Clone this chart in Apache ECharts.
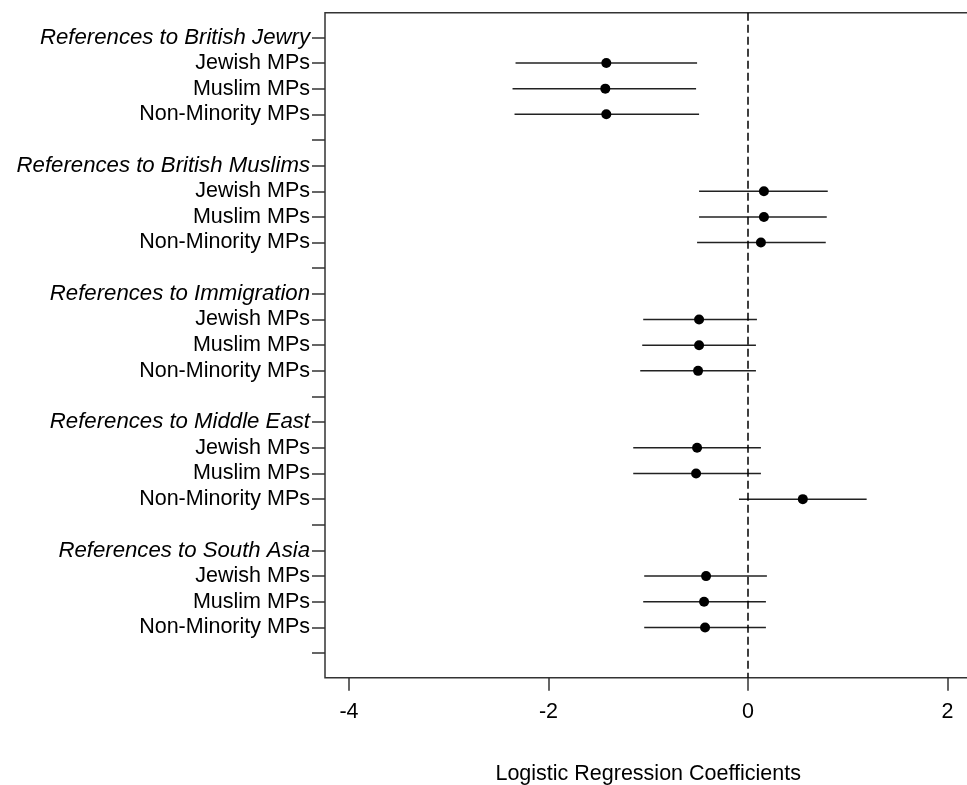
<!DOCTYPE html>
<html>
<head>
<meta charset="utf-8">
<script src="https://cdn.jsdelivr.net/npm/echarts@6/dist/echarts.min.js"></script>
<style>
  html, body { margin: 0; padding: 0; background: #fff; }
  #chart { width: 967px; height: 785px; }
</style>
</head>
<body>
<div id="chart"></div>
<script>
// topics (group headers) and MP types within each
const groups = [
    'References to British Jewry',
    'References to British Muslims',
    'References to Immigration',
    'References to Middle East',
    'References to South Asia'
];
const mpTypes = ['Jewish MPs', 'Muslim MPs', 'Non-Minority MPs'];

// coefficients, one row per group, in mpTypes order
const estimates = [
    [-1.42, -1.43, -1.42],
    [0.16, 0.16, 0.13],
    [-0.49, -0.49, -0.50],
    [-0.51, -0.52, 0.55],
    [-0.42, -0.44, -0.43]
];
const lower = [
    [-2.33, -2.36, -2.34],
    [-0.49, -0.49, -0.51],
    [-1.05, -1.06, -1.08],
    [-1.15, -1.15, -0.09],
    [-1.04, -1.05, -1.04]
];
const upper = [
    [-0.51, -0.52, -0.49],
    [0.80, 0.79, 0.78],
    [0.09, 0.08, 0.08],
    [0.13, 0.13, 1.19],
    [0.19, 0.18, 0.18]
];
const xTicks = [-4, -2, 0, 2];

// rows: header, 3 MP rows, blank spacer -> 5 per group
let rowLabels = {};
let rowPositions = [];
let points = [];
groups.forEach(function (g, gi) {
    let base = gi * 5 + 1;
    rowLabels[base] = '{it|' + g + '}';
    rowPositions.push(base);
    mpTypes.forEach(function (m, mi) {
        let r = base + mi + 1;
        rowLabels[r] = m;
        rowPositions.push(r);
        points.push([lower[gi][mi], upper[gi][mi], estimates[gi][mi], r]);
    });
    rowLabels[base + 4] = '';
    rowPositions.push(base + 4);
});

let myChart = echarts.init(document.getElementById('chart'));

const font = 'Liberation Sans, Arial, sans-serif';

myChart.setOption({
    animation: false,
    grid: {
        left: 325,
        top: 12.7,
        width: 646.4,
        height: 665,
        outerBoundsMode: 'none',
        containLabel: false,
        show: true,
        borderColor: '#333',
        borderWidth: 1.5
    },
    xAxis: {
        type: 'value',
        min: -4.24,
        max: 2.24,
        name: 'Logistic Regression Coefficients',
        nameLocation: 'middle',
        nameGap: 85,
        nameTextStyle: {fontFamily: font, fontSize: 21.5, color: '#000'},
        axisLine: {show: false, onZero: false},
        axisTick: {show: true, length: 13, lineStyle: {color: '#333', width: 1.5}, customValues: xTicks},
        axisLabel: {
            customValues: xTicks,
            margin: 23,
            fontFamily: font,
            fontSize: 21.5,
            color: '#000'
        },
        splitLine: {show: false}
    },
    yAxis: {
        type: 'value',
        inverse: true,
        min: 0.04,
        max: 25.96,
        axisLine: {show: false, onZero: false},
        axisTick: {show: true, length: 13, lineStyle: {color: '#333', width: 1.5}, customValues: rowPositions},
        axisLabel: {
            customValues: rowPositions,
            margin: 15,
            fontFamily: font,
            fontSize: 21.5,
            color: '#000',
            formatter: function (v) {
                return rowLabels[Math.round(v)] || '';
            },
            rich: {
                it: {fontFamily: font, fontSize: 22.2, fontStyle: 'italic', color: '#000'}
            }
        },
        splitLine: {show: false}
    },
    series: [
        {
            type: 'custom',
            data: points,
            encode: {x: [0, 1, 2], y: 3},
            renderItem: function (params, api) {
                let y = api.value(3);
                let a = api.coord([api.value(0), y]);
                let b = api.coord([api.value(1), y]);
                let c = api.coord([api.value(2), y]);
                return {
                    type: 'group',
                    children: [
                        {
                            type: 'line',
                            shape: {x1: a[0], y1: a[1], x2: b[0], y2: b[1]},
                            style: {stroke: '#222', lineWidth: 1.5}
                        },
                        {
                            type: 'circle',
                            shape: {cx: c[0], cy: c[1], r: 5},
                            style: {fill: '#000'}
                        }
                    ]
                };
            },
            markLine: {
                silent: true,
                symbol: 'none',
                label: {show: false},
                lineStyle: {color: '#000', type: [8, 4], width: 1.5},
                data: [{xAxis: 0}]
            }
        }
    ]
});
</script>
</body>
</html>
